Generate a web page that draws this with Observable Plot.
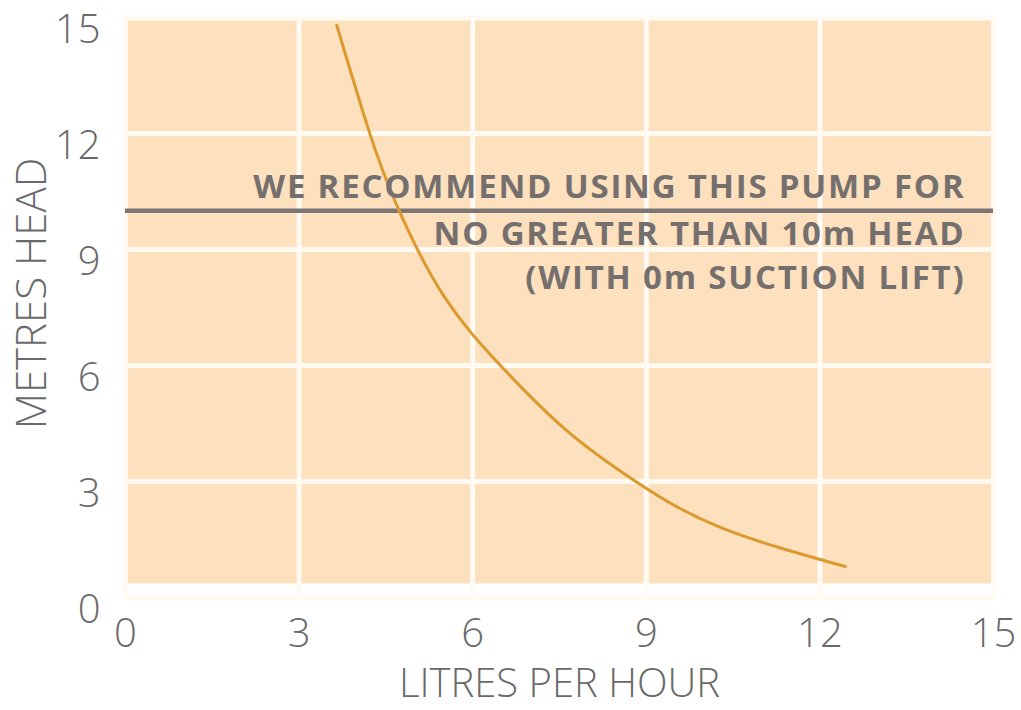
<!DOCTYPE html>
<html>
<head>
<meta charset="utf-8">
<script src="https://cdn.jsdelivr.net/npm/d3@7"></script>
<script src="https://cdn.jsdelivr.net/npm/@observablehq/plot@0.6"></script>
<style>
  html, body { margin: 0; padding: 0; background: #ffffff; }
  #chart svg { display: block; }
</style>
</head>
<body>
<div id="chart"></div>
<script>
// Pump curve: flow (litres per hour) vs head (metres)
const flowLph = [3.65, 4.2, 4.7, 5.5, 6.48, 7.6, 8.85, 10.3, 12.44];
const headM   = [14.8, 12.1, 10.1, 7.8, 6.0, 4.35, 2.97, 1.8, 0.8];

const xTicks = [0, 3, 6, 9, 12, 15];
const yTicks = [0, 3, 6, 9, 12, 15];

const recommendedMaxHead = 10;
const noteAbove = ["WE RECOMMEND USING THIS PUMP FOR"];
const noteBelow = ["NO GREATER THAN 10m HEAD\n(WITH 0m SUCTION LIFT)"];

const xTitle = "LITRES PER HOUR";
const yTitle = "METRES HEAD";

const curve = flowLph.map((x, i) => ({x, y: headM[i]}));

const lightFont = {fontFamily: "'Open Sans', sans-serif", fontWeight: 300};
const boldNote = {fontSize: 33, fontWeight: 700, fill: "#756f6e", fontFamily: "'Open Sans', sans-serif"};

const chart = Plot.plot({
  width: 1021,
  height: 710,
  marginLeft: 125,
  marginRight: 28,
  marginTop: 17,
  marginBottom: 113,
  style: {background: "#ffffff", fontFamily: "'Open Sans', sans-serif"},
  x: {domain: [0, 15]},
  y: {domain: [0, 15]},
  marks: [
    Plot.frame({fill: "#fde0be", stroke: null, insetTop: 3, insetBottom: 14}),
    Plot.gridX(xTicks, {stroke: "#fffaf2", strokeOpacity: 1, strokeWidth: 5}),
    Plot.gridY(yTicks, {stroke: "#fffaf2", strokeOpacity: 1, strokeWidth: 5}),
    Plot.axisX(xTicks, {
      tickSize: 0, tickPadding: 21, fontSize: 40, fill: "#6a6a6a", label: null,
      ...lightFont
    }),
    Plot.axisY(yTicks, {
      tickSize: 0, tickPadding: 25, fontSize: 40, fill: "#6a6a6a", label: null, dy: 13,
      ...lightFont
    }),
    Plot.ruleY([recommendedMaxHead], {stroke: "#7d7676", strokeWidth: 4.5}),
    Plot.line(curve, {x: "x", y: "y", stroke: "#dc992d", strokeWidth: 3, curve: "natural"}),
    Plot.text(noteAbove, {
      y: () => recommendedMaxHead, frameAnchor: "right", dx: -28, dy: -13,
      textAnchor: "end", lineAnchor: "bottom", ...boldNote
    }),
    Plot.text(noteBelow, {
      y: () => recommendedMaxHead, frameAnchor: "right", dx: -28, dy: 3,
      textAnchor: "end", lineAnchor: "top", lineHeight: 1.33, ...boldNote
    }),
    Plot.text([xTitle], {
      frameAnchor: "bottom", dy: 87, lineAnchor: "middle", textAnchor: "middle",
      fontSize: 40, fill: "#6a6a6a", ...lightFont
    }),
    Plot.text([yTitle], {
      frameAnchor: "left", dx: -93, dy: -14, rotate: -90, lineAnchor: "middle", textAnchor: "middle",
      fontSize: 42, fill: "#6a6a6a", ...lightFont
    })
  ]
});

// widen the bold note lettering to match the reference's wider typeface
d3.select(chart).selectAll("text")
  .filter(function () { return (this.getAttribute("font-weight") || (this.parentNode && this.parentNode.getAttribute && this.parentNode.getAttribute("font-weight"))) === "700"; })
  .attr("letter-spacing", "1.8px");

document.getElementById("chart").appendChild(chart);
</script>
</body>
</html>
